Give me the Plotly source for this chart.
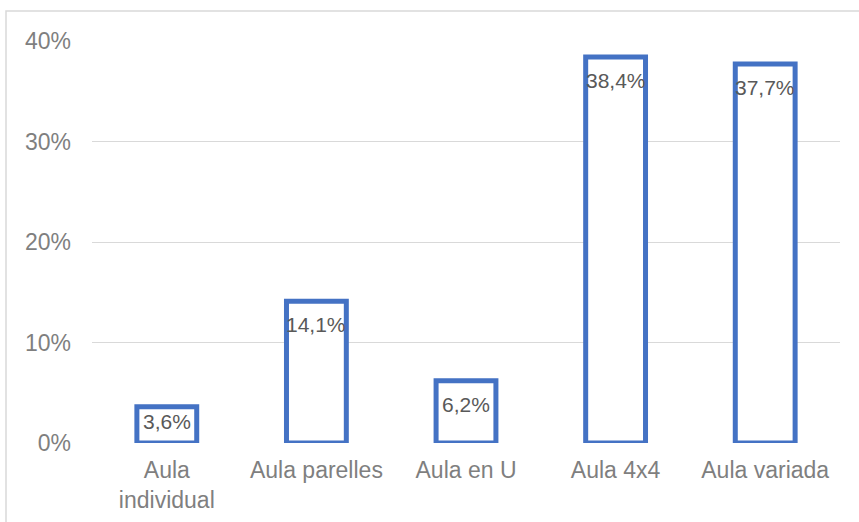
import plotly.graph_objects as go

# Classroom layout preferences (share of responses, %)
categories = ["Aula<br>individual", "Aula parelles", "Aula en U", "Aula 4x4", "Aula variada"]
values = [3.6, 14.1, 6.2, 38.4, 37.7]
tick_vals = [0, 10, 20, 30, 40]
tick_text = ["0%", "10%", "20%", "30%", "40%"]

W, H = 859, 522
M_L, M_R, M_T, M_B = 92, 19, 41, 79
Y_MAX = 40
plot_h = H - M_T - M_B
plot_w = W - M_L - M_R

BLUE = "#4472C4"
FONT = "Liberation Sans, Arial, sans-serif"

fig = go.Figure()
fig.add_trace(go.Bar(
    x=categories,
    y=values,
    marker=dict(color="white", line=dict(color=BLUE, width=5)),
    hoverinfo="skip",
))

# Value labels placed just inside the top of each bar
for cat, val in zip(categories, values):
    bar_px = val / Y_MAX * plot_h
    shift = min(10, max(0, bar_px - 35))
    fig.add_annotation(
        x=cat, y=val, xref="x", yref="y",
        text=f"{val:.1f}%".replace(".", ","),
        showarrow=False, yanchor="top", yshift=-shift,
        font=dict(family=FONT, size=21, color="#595959"),
    )

# Chart-area frame
fig.add_shape(
    type="rect", xref="paper", yref="paper",
    x0=(6 - M_L) / plot_w, x1=(W + 20 - M_L) / plot_w,
    y0=-(M_B + 20) / plot_h, y1=(H - M_B - 11) / plot_h,
    line=dict(color="#d9d9d9", width=1.5), fillcolor="rgba(0,0,0,0)",
    layer="below",
)

fig.update_layout(
    width=W, height=H,
    margin=dict(l=M_L, r=M_R, t=M_T, b=M_B),
    paper_bgcolor="white", plot_bgcolor="white",
    showlegend=False,
    bargap=0.6,
    font=dict(family=FONT, size=23, color="#7f7f7f"),
    xaxis=dict(
        showgrid=False, showline=False, zeroline=False,
        tickfont=dict(size=23, color="#7f7f7f"),
        ticklabelstandoff=11, automargin=False,
    ),
    yaxis=dict(
        range=[0, Y_MAX], tickvals=tick_vals, ticktext=tick_text,
        showgrid=True, gridcolor="#d9d9d9", gridwidth=1.3,
        zeroline=False, showline=False,
        tickfont=dict(size=23, color="#7f7f7f"),
        ticklabelstandoff=20, automargin=False,
    ),
)

fig.write_html("out.html")
